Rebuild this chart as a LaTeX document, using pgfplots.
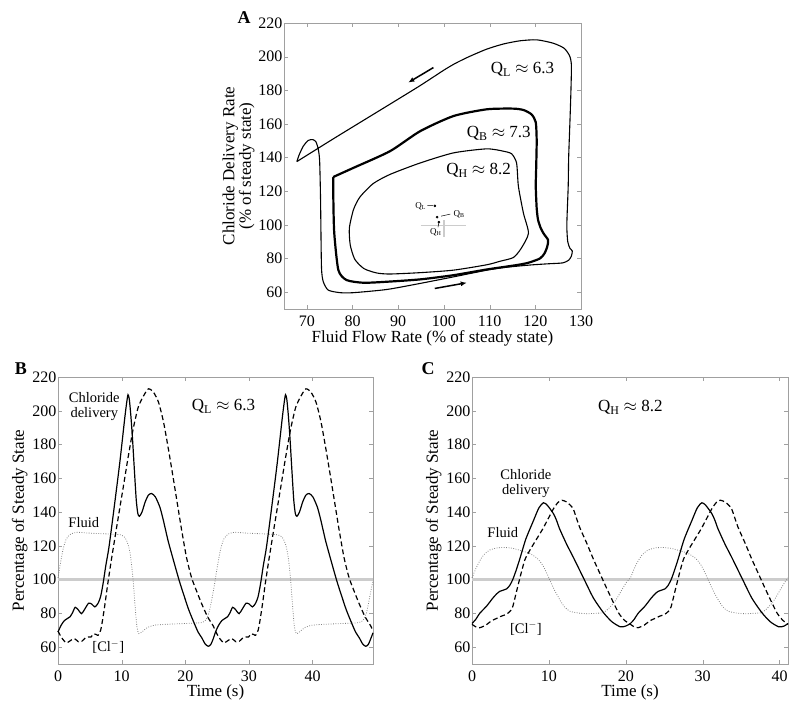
\documentclass[border=0pt]{standalone}
\usepackage{fontspec}
\setmainfont{Liberation Serif}
\usepackage{pgfplots}
\pgfplotsset{compat=1.18}
\usetikzlibrary{arrows.meta}

\definecolor{framegray}{HTML}{A0A0A0}
\definecolor{refgray}{HTML}{CCCCCC}
\definecolor{fluidgray}{HTML}{808080}

\pgfplotsset{
  panel/.style={
    scale only axis,
    axis line style={framegray},
    major tick style={framegray},
    major tick length=4pt,
    tick label style={font=\fontsize{16}{18}\selectfont},
    label style={font=\fontsize{17}{19}\selectfont},
    /pgf/number format/assume math mode=true,
    yticklabel style={xshift=2pt},
    xticklabel style={yshift=-3pt},
    xlabel style={yshift=3pt},
    clip=false,
  },
  timepanel/.style={
    panel,
    width=315pt, height=287pt,
    ymin=50, ymax=220,
    ytick={60,80,...,220},
    xlabel={Time (s)},
    ylabel={Percentage of Steady State},
    ylabel style={yshift=-2pt},
  },
}

\begin{document}
\begin{tikzpicture}[x=1pt,y=1pt]
\path[use as bounding box] (0,0) rectangle (799,712);

% ---------------- A: phase plane ----------------
\begin{axis}[panel,
  at={(284pt,403pt)}, anchor=south west,
  width=297pt, height=286pt,
  xmin=65, xmax=130, ymin=50, ymax=220,
  xtick={70,80,...,130}, ytick={60,80,...,220},
  xlabel={Fluid Flow Rate (\% of steady state)},
  ylabel={Chloride Delivery Rate\\(\% of steady state)},
  ylabel style={align=center, font=\fontsize{17}{15}\selectfont, yshift=-3pt},
]
% steady state cross
\addplot[refgray, line width=1.2pt] coordinates {(94.9,99.7) (104.9,99.7)};
\addplot[refgray, line width=1.2pt] coordinates {(100,93) (100,103)};
% Q_L
\addplot[black, line width=1.1pt, smooth, tension=0.4] coordinates {
(67.8,137.6) (76,151.5) (87.5,170.6) (94.8,182.8) (100,192) (102.5,196) (105.5,200) (109.4,204.5) (113,207.5) (116.6,209.4) (120.3,210) (123.9,208) (126.3,205) (127.5,200.5) (127.9,195) (127.8,180) (127.6,163) (127.3,140) (127.2,123) (126.9,100) (127.1,90) (127.6,86) (128.1,84.5) (127.9,81.5) (127.3,79) (126,77.4) (123,76.9) (119.6,76.3) (116.6,75.6) (113,74.6) (109.4,73.1) (102.1,69.1) (94.8,65.2) (87.5,61.6) (80.2,59.7) (77.3,59.7) (74.7,61.2) (73.6,66.2) (73.2,75.1) (73.0,114.9) (72.8,138) (72.5,145) (72.0,149.3) (71.3,150.7) (70.3,150.2) (69.2,146.7) (68.3,141.5) (67.8,137.6)};
% Q_B
\addplot[black, line width=2.2pt, smooth, tension=0.4] coordinates {
(75.8,128.5) (80.2,133.9) (88.2,143.8) (94.8,155.7) (102.1,164.7) (109.4,168.7) (115.2,169.1) (117.5,168.2) (119.2,165.6) (120.1,161) (120.3,150) (120.2,135) (120.1,123) (120.3,110) (120.6,103) (121.2,98) (121.9,94.5) (122.8,91) (122.6,87) (122,83) (121,80) (118.5,77.5) (115.9,76.1) (109.4,73.5) (102.1,70.1) (94.8,67.6) (87.5,66.2) (82.4,65.6) (78.7,67.2) (76.9,73.1) (76.0,95) (75.8,115) (75.8,128.5)};
% Q_H
\addplot[black, line width=1.1pt, smooth, tension=0.4] coordinates {
(113,143.8) (109.4,145.2) (102.1,142.8) (94.8,136.8) (88.2,130) (84.5,124.5) (81.6,116.5) (80.2,109) (79.3,98) (79.5,88) (80.5,79.5) (82.5,74) (85.3,71.4) (88.2,70.8) (94.8,71.6) (102.1,73.1) (109.4,76.3) (112.3,78.4) (115.2,80.6) (116.9,86) (118.5,95) (117.4,107) (116.3,122.9) (115.9,136.8) (114.8,142.3) (113,143.8)};
% period-one points
\addplot[only marks, mark=*, mark size=1.1pt, black] coordinates {(98.0,111.3) (98.5,104.6) (98.9,101.6)};
\draw[-{Latex[length=6pt,width=5pt]}, line width=1.5pt] (axis cs:97.7,193.5) -- (axis cs:92.2,184.6);
\draw[-{Latex[length=6pt,width=5pt]}, line width=1.5pt] (axis cs:98.0,62.2) -- (axis cs:105,65.6);
\draw[line width=0.5pt] (axis cs:96.4,111.5) -- (axis cs:97.6,111.4);
\draw[line width=0.5pt] (axis cs:99.4,105.2) -- (axis cs:101.4,106.4);
\draw[line width=0.5pt] (axis cs:98.9,101.2) -- (axis cs:98.7,98.6);
\node[font=\fontsize{9}{10}\selectfont] at (axis cs:94.9,111.3) {Q\textsubscript{L}};
\node[font=\fontsize{9}{10}\selectfont] at (axis cs:103.3,106.2) {Q\textsubscript{B}};
\node[font=\fontsize{9}{10}\selectfont] at (axis cs:98.2,95.5) {Q\textsubscript{H}};
\node[font=\fontsize{17}{19}\selectfont] at (axis cs:117.2,192.5) {Q\textsubscript{L} $\approx$ 6.3};
\node[font=\fontsize{17}{19}\selectfont] at (axis cs:112.0,154.2) {Q\textsubscript{B} $\approx$ 7.3};
\node[font=\fontsize{17}{19}\selectfont] at (axis cs:107.6,132.3) {Q\textsubscript{H} $\approx$ 8.2};
\end{axis}
\node[font=\bfseries\fontsize{18}{20}\selectfont] at (244,694) {A};

% ---------------- B: Q_L time course ----------------
\begin{axis}[timepanel,
  at={(58pt,48pt)}, anchor=south west,
  xmin=0, xmax=49.5, xtick={0,10,...,40},
]
\addplot[refgray, line width=2.2pt] coordinates {(0,100) (49.5,100)};
% fluid
\addplot[fluidgray, line width=0.8pt, dash pattern=on 0.8pt off 1.6pt, smooth, tension=0.4] coordinates {
(0,101) (0.4,110) (0.8,118) (1.3,124) (2.0,127) (3,128) (5,127.5) (8,127) (9.8,126.5) (10.5,125) (11.0,121) (11.4,114) (11.8,100) (12.1,85) (12.4,72) (12.7,68) (13.2,69) (14,71.5) (15.2,73) (17,73.5) (20,74) (22.5,74.5) (23.2,76) (23.7,80) (24.1,87) (24.5,95) (24.75,101)
(25.15,110) (25.55,118) (26.05,124) (26.75,127) (27.75,128) (29.75,127.5) (32.75,127) (34.55,126.5) (35.25,125) (35.75,121) (36.15,114) (36.55,100) (36.85,85) (37.15,72) (37.45,68) (37.95,69) (38.75,71.5) (39.95,73) (41.75,73.5) (44.75,74) (47.25,74.5) (47.95,76) (48.45,80) (48.85,87) (49.25,95) (49.5,99)};
% chloride concentration
\addplot[black, line width=1.2pt, dash pattern=on 5pt off 3pt, smooth, tension=0.4] coordinates {
(0,69.5) (0.5,66) (1.0,63.5) (1.4,62.5) (2.0,64) (2.6,65) (3.2,63.2) (3.7,63.3) (4.3,65.5) (4.8,66) (5.2,66) (5.6,67.9) (6.0,67.5) (6.3,67) (6.7,70) (7.0,76) (7.4,86) (7.8,97) (8.4,112) (9.3,133) (10.2,153.5) (11.0,172) (11.8,189) (12.6,202) (13.4,208.5) (14.2,213) (15.0,211) (15.8,205) (16.6,193) (17.5,174) (18.5,151) (19.4,130) (20.2,113) (21.0,101) (21.8,93) (22.6,85.5) (23.5,78) (24.4,72.5) (24.75,69.5)
(25.25,66) (25.75,63.5) (26.15,62.5) (26.75,64) (27.35,65) (27.95,63.2) (28.45,63.3) (29.05,65.5) (29.55,66) (29.95,66) (30.35,67.9) (30.75,67.5) (31.05,67) (31.45,70) (31.75,76) (32.15,86) (32.55,97) (33.15,112) (34.05,133) (34.95,153.5) (35.75,172) (36.55,189) (37.35,202) (38.15,208.5) (38.95,213) (39.75,211) (40.55,205) (41.35,193) (42.25,174) (43.25,151) (44.15,130) (44.95,113) (45.75,101) (46.55,93) (47.35,85.5) (48.25,78) (49.15,72.5) (49.5,69.5)};
% chloride delivery
\addplot[black, line width=1.2pt, smooth, tension=0.4] coordinates {
(0,69) (0.5,73) (1.0,75.7) (1.5,77) (1.9,78) (2.3,80.5) (2.7,83.6) (3.2,82) (3.7,79.8) (4.2,82.5) (4.8,86) (5.3,85.5) (5.8,83.8) (6.3,86) (6.7,90) (7.1,98) (7.5,108) (8.0,119) (8.7,139) (9.7,169) (10.5,196) (10.8,205) (11.0,209.5) (11.2,207) (11.45,197) (11.7,184) (12.0,165) (12.3,147) (12.55,139) (12.8,137.5) (13.2,140) (13.7,146) (14.2,150) (14.7,151) (15.3,149) (16.0,143) (16.5,136) (17.3,123) (18.1,112) (19.0,100) (19.5,94) (20.5,82.6) (21.2,76) (22.0,69) (22.6,65.5) (23.1,62) (23.6,60.5) (24.0,61.5) (24.4,65) (24.75,69)
(25.25,73) (25.75,75.7) (26.25,77) (26.65,78) (27.05,80.5) (27.45,83.6) (27.95,82) (28.45,79.8) (28.95,82.5) (29.55,86) (30.05,85.5) (30.55,83.8) (31.05,86) (31.45,90) (31.85,98) (32.25,108) (32.75,119) (33.45,139) (34.45,169) (35.25,196) (35.55,205) (35.75,209.5) (35.95,207) (36.2,197) (36.45,184) (36.75,165) (37.05,147) (37.3,139) (37.55,137.5) (37.95,140) (38.45,146) (38.95,150) (39.45,151) (40.05,149) (40.75,143) (41.25,136) (42.05,123) (42.85,112) (43.75,100) (44.25,94) (45.25,82.6) (45.95,76) (46.75,69) (47.35,65.5) (47.85,62) (48.35,60.5) (48.75,61.5) (49.15,65) (49.5,68.5)};
\node[font=\fontsize{14.5}{15}\selectfont, align=center] at (axis cs:5.7,202.5) {Chloride\\delivery};
\node[font=\fontsize{14.5}{15}\selectfont] at (axis cs:4.05,133.8) {Fluid};
\node[font=\fontsize{14.5}{15}\selectfont] at (axis cs:7.9,60) {[Cl$^{-}$]};
\node[font=\fontsize{17}{19}\selectfont] at (axis cs:26,202.5) {Q\textsubscript{L} $\approx$ 6.3};
\end{axis}
\node[font=\bfseries\fontsize{18}{20}\selectfont] at (21,343) {B};

% ---------------- C: Q_H time course ----------------
\begin{axis}[timepanel,
  at={(472pt,48pt)}, anchor=south west,
  width=316pt,
  xmin=0, xmax=41.1, xtick={0,10,...,40},
]
\addplot[refgray, line width=2.2pt] coordinates {(0,100) (41.1,100)};
% fluid
\addplot[fluidgray, line width=0.8pt, dash pattern=on 0.8pt off 1.6pt, smooth, tension=0.4] coordinates {
(0,101) (0.5,106.5) (1.0,111) (1.5,114.5) (2.3,117.5) (3.3,118.8) (4.3,119) (5.3,118.5) (6.5,117) (7.5,115.5) (8.5,112.5) (9.2,108.5) (9.7,104) (10.1,100) (10.7,94) (11.4,88.2) (12.0,84) (12.7,81.3) (13.8,80.2) (14.9,79.8) (16.0,80) (17.1,80.5) (17.8,83) (18.4,86) (18.8,88.5) (19.5,94) (20.1,98.5) (20.6,101)
(21.1,106.5) (21.6,111) (22.1,114.5) (22.9,117.5) (23.9,118.8) (24.9,119) (25.9,118.5) (27.1,117) (28.1,115.5) (29.1,112.5) (29.8,108.5) (30.3,104) (30.7,100) (31.3,94) (32.0,88.2) (32.6,84) (33.3,81.3) (34.4,80.2) (35.5,79.8) (36.6,80) (37.7,80.5) (38.4,83) (39.0,86) (39.4,88.5) (40.1,94) (40.7,98.5) (41.1,101)};
% chloride concentration
\addplot[black, line width=1.2pt, dash pattern=on 5pt off 3pt, smooth, tension=0.4] coordinates {
(0,73.5) (0.5,72) (1.0,71.5) (1.8,73) (2.5,75.5) (3.2,77) (3.8,78.3) (4.5,79.5) (5.0,81.5) (5.3,84) (5.9,95) (6.4,104) (6.9,112) (7.6,118) (8.4,124) (9.2,130) (9.9,136) (10.6,142) (11.2,145.8) (11.7,147) (12.3,146) (12.8,144) (13.2,141.5) (14.0,131) (14.9,121.8) (15.8,112) (16.7,103) (17.5,95) (18.4,86.3) (19.1,80) (19.8,76) (20.6,73.5)
(21.1,72) (21.6,71.5) (22.4,73) (23.1,75.5) (23.8,77) (24.4,78.3) (25.1,79.5) (25.6,81.5) (25.9,84) (26.5,95) (27.0,104) (27.5,112) (28.2,118) (29.0,124) (29.8,130) (30.5,136) (31.2,142) (31.8,145.8) (32.3,147) (32.9,146) (33.4,144) (33.8,141.5) (34.6,131) (35.5,121.8) (36.4,112) (37.3,103) (38.1,95) (39.0,86.3) (39.7,80) (40.4,76) (41.1,73.5)};
% chloride delivery
\addplot[black, line width=1.2pt, smooth, tension=0.4] coordinates {
(0,74) (0.5,76.5) (1.0,80) (1.9,84.3) (2.7,89) (3.2,91.5) (3.6,93) (4.1,93.8) (4.5,94.5) (4.9,96.5) (5.3,100) (5.7,105) (6.2,112) (7.0,124) (8.0,135) (8.7,142.5) (9.3,145.5) (9.8,144) (10.6,139) (11.0,135) (11.4,130) (12.3,121) (13.2,113) (14.6,100) (15.8,89) (17.1,80.4) (18.2,75) (19.3,72) (20.0,72.5) (20.6,74)
(21.1,76.5) (21.6,80) (22.5,84.3) (23.3,89) (23.8,91.5) (24.2,93) (24.7,93.8) (25.1,94.5) (25.5,96.5) (25.9,100) (26.3,105) (26.8,112) (27.6,124) (28.6,135) (29.3,142.5) (29.9,145.5) (30.4,144) (31.2,139) (31.6,135) (32.0,130) (32.9,121) (33.8,113) (35.2,100) (36.4,89) (37.7,80.4) (38.8,75) (39.9,72) (40.6,72.5) (41.1,74)};
\node[font=\fontsize{14.5}{15}\selectfont, align=center] at (axis cs:7.0,156.7) {Chloride\\delivery};
\node[font=\fontsize{14.5}{15}\selectfont] at (axis cs:4.0,127.7) {Fluid};
\node[font=\fontsize{14.5}{15}\selectfont] at (axis cs:7.0,71) {[Cl$^{-}$]};
\node[font=\fontsize{17}{19}\selectfont] at (axis cs:20.6,202) {Q\textsubscript{H} $\approx$ 8.2};
\end{axis}
\node[font=\bfseries\fontsize{18}{20}\selectfont] at (428,343) {C};
\end{tikzpicture}
\end{document}
